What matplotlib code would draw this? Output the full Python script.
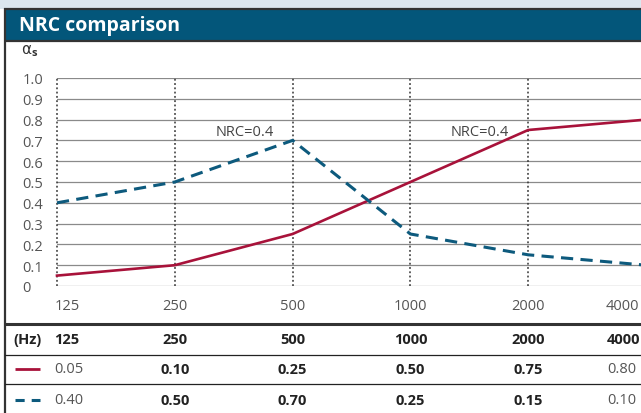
import matplotlib
matplotlib.use('Agg')
import matplotlib.pyplot as plt
from matplotlib.patches import Rectangle

plt.rcParams['font.family'] = ['Open Sans', 'DejaVu Sans']

# data
freqs = ['125', '250', '500', '1000', '2000', '4000']
absorber_a = [0.05, 0.10, 0.25, 0.50, 0.75, 0.80]   # red solid
absorber_b = [0.40, 0.50, 0.70, 0.25, 0.15, 0.10]   # teal dashed
y_ticks = [0.0, 0.1, 0.2, 0.3, 0.4, 0.5, 0.6, 0.7, 0.8, 0.9, 1.0]
y_labels = ['0', '0.1', '0.2', '0.3', '0.4', '0.5', '0.6', '0.7', '0.8', '0.9', '1.0']
nrc_notes = [(2, 'NRC=0.4'), (4, 'NRC=0.4')]   # (column index, text)
bold_cols = [False, True, True, True, True, False]

RED = '#a8123a'
TEAL = '#0d5a7d'
BAND = '#03567a'
DARK = '#333333'
GREY_TXT = '#555555'

W, H = 641, 414
fig = plt.figure(figsize=(W / 100, H / 100), dpi=100)

# overlay axes in pixel coordinates for the frame / table
bg = fig.add_axes([0, 0, 1, 1])
bg.set_xlim(0, W)
bg.set_ylim(H, 0)
bg.axis('off')

bg.add_patch(Rectangle((0, 0), W, 9.5, color='#dce7ef', lw=0))
bg.add_patch(Rectangle((4, 10), W, 32, color=BAND, lw=0))
bg.plot([4, W], [10, 10], color=DARK, lw=1.6, solid_capstyle='butt')
bg.plot([4, W], [42, 42], color=DARK, lw=1.6, solid_capstyle='butt')
bg.plot([4.5, 4.5], [9, H], color=DARK, lw=1.6, solid_capstyle='butt')
bg.text(19, 26, 'NRC comparison', color='white', fontsize=14,
        fontweight='bold', ha='left', va='center')
# alpha with bold subscript s
bg.text(21, 49, 'α', color=DARK, fontsize=11, ha='left', va='center',
        family=['DejaVu Sans'])
bg.text(32, 53, 's', color=DARK, fontsize=8, fontweight='bold',
        ha='left', va='center')

# plot axes
x0, step = 57, 117.8
ax = fig.add_axes([x0 / W, (H - 287) / H, 5 * step / W, 208 / H])
ax.set_facecolor('none')
xs = list(range(len(freqs)))
ax.set_xlim(0, 5)
ax.set_ylim(0, 1)
for s in ax.spines.values():
    s.set_visible(False)
for v in y_ticks:
    ax.axhline(v, color='#8a8a8a', lw=0.9, zorder=1)
for x in xs:
    ax.plot([x, x], [0, 1], color=DARK, lw=1.1, ls=(0, (1.2, 1.6)), zorder=1,
            clip_on=False)

ax.plot(xs, absorber_a, color=RED, lw=1.9, zorder=3, clip_on=False)
ax.plot(xs, absorber_b, color=TEAL, lw=2.2, dashes=(4, 2.4), zorder=3,
        clip_on=False)

for idx, txt in nrc_notes:
    ax.annotate(txt, xy=(idx, 0.745), xytext=(-19, 0), textcoords='offset pixels',
                ha='right', va='center', fontsize=10.5, color='#444444')

ax.set_yticks(y_ticks)
ax.set_yticklabels(y_labels)
ax.tick_params(axis='y', length=0, pad=25, labelsize=10.5, labelcolor=GREY_TXT)
for lab in ax.get_yticklabels():
    lab.set_horizontalalignment('left')
ax.set_xticks([])

tick_ha = ['left', 'center', 'center', 'center', 'center', 'right']
tick_dx = [-2, 0, 0, 0, 0, -7]
for x, f, ha, dx in zip(xs, freqs, tick_ha, tick_dx):
    ax.annotate(f, xy=(x, 0), xytext=(dx, -19), textcoords='offset pixels',
                ha=ha, va='center', fontsize=10.5, color=GREY_TXT,
                annotation_clip=False)

# table below the chart
bg.plot([5, W], [325, 325], color=DARK, lw=2.2, solid_capstyle='butt')
bg.plot([5, W], [356, 356], color='#222222', lw=0.9)
bg.plot([5, W], [385, 385], color='#222222', lw=0.9)

col_x = [54, x0 + step, x0 + 2 * step, x0 + 3 * step, x0 + 4 * step, 607]
col_ha = ['left', 'center', 'center', 'center', 'center', 'left']

bg.text(13, 340, '(Hz)', fontsize=10.5, fontweight='bold', color='#222222',
        ha='left', va='center')
for cx, ha, f in zip(col_x, col_ha, freqs):
    bg.text(cx, 340, f, fontsize=10.5, fontweight='bold', color='#222222',
            ha=ha, va='center')

bg.plot([15, 40], [370, 370], color=RED, lw=2.0, solid_capstyle='butt')
bg.plot([15, 40], [401, 401], color=TEAL, lw=2.2, dashes=(3, 2.3),
        solid_capstyle='butt', dash_capstyle='butt')
for row_y, vals in ((370, absorber_a), (401, absorber_b)):
    for cx, ha, v, b in zip(col_x, col_ha, vals, bold_cols):
        bg.text(cx, row_y, f'{v:.2f}', fontsize=10.5,
                fontweight='bold' if b else 'normal',
                color='#222222' if b else GREY_TXT, ha=ha, va='center')

fig.savefig('out.png', dpi=100)
